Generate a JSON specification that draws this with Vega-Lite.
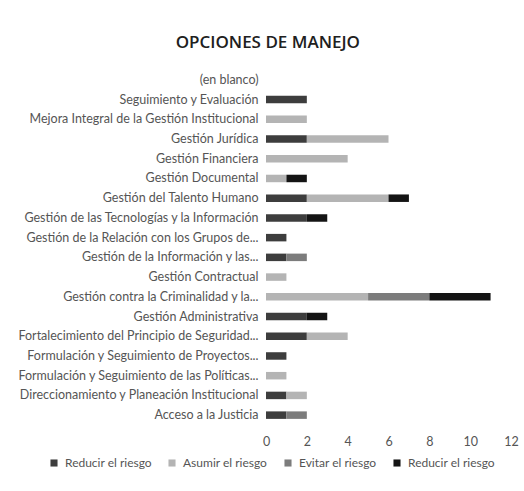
{
  "$schema": "https://vega.github.io/schema/vega-lite/v6.json",
  "width": 245,
  "height": 355,
  "autosize": "none",
  "padding": {"left": 266, "top": 70, "right": 13, "bottom": 66},
  "background": "white",
  "title": {
    "text": "OPCIONES DE MANEJO",
    "frame": "bounds",
    "anchor": "middle",
    "font": "Open Sans",
    "fontSize": 17,
    "fontWeight": 600,
    "color": "#202020",
    "offset": 18
  },
  "config": {
    "view": {"stroke": null},
    "font": "Lato",
    "axis": {"labelFont": "Lato", "labelFontSize": 12.5, "labelColor": "#555555", "domain": false, "ticks": false, "grid": false, "title": null},
    "legend": {"labelFont": "Lato", "labelFontSize": 12, "labelColor": "#555555"}
  },
  "data": {
    "values": [
      {"categoria": "Seguimiento y Evaluación", "serie": "Reducir el riesgo", "orden": 1, "valor": 2},
      {"categoria": "Mejora Integral de la Gestión Institucional", "serie": "Asumir el riesgo", "orden": 2, "valor": 2},
      {"categoria": "Gestión Jurídica", "serie": "Reducir el riesgo", "orden": 1, "valor": 2},
      {"categoria": "Gestión Jurídica", "serie": "Asumir el riesgo", "orden": 2, "valor": 4},
      {"categoria": "Gestión Financiera", "serie": "Asumir el riesgo", "orden": 2, "valor": 4},
      {"categoria": "Gestión Documental", "serie": "Asumir el riesgo", "orden": 2, "valor": 1},
      {"categoria": "Gestión Documental", "serie": "Reducir el riesgo ", "orden": 4, "valor": 1},
      {"categoria": "Gestión del Talento Humano", "serie": "Reducir el riesgo", "orden": 1, "valor": 2},
      {"categoria": "Gestión del Talento Humano", "serie": "Asumir el riesgo", "orden": 2, "valor": 4},
      {"categoria": "Gestión del Talento Humano", "serie": "Reducir el riesgo ", "orden": 4, "valor": 1},
      {"categoria": "Gestión de las Tecnologías y la Información", "serie": "Reducir el riesgo", "orden": 1, "valor": 2},
      {"categoria": "Gestión de las Tecnologías y la Información", "serie": "Reducir el riesgo ", "orden": 4, "valor": 1},
      {"categoria": "Gestión de la Relación con los Grupos de...", "serie": "Reducir el riesgo", "orden": 1, "valor": 1},
      {"categoria": "Gestión de la Información y las...", "serie": "Reducir el riesgo", "orden": 1, "valor": 1},
      {"categoria": "Gestión de la Información y las...", "serie": "Evitar el riesgo", "orden": 3, "valor": 1},
      {"categoria": "Gestión Contractual", "serie": "Asumir el riesgo", "orden": 2, "valor": 1},
      {"categoria": "Gestión contra la Criminalidad y la...", "serie": "Asumir el riesgo", "orden": 2, "valor": 5},
      {"categoria": "Gestión contra la Criminalidad y la...", "serie": "Evitar el riesgo", "orden": 3, "valor": 3},
      {"categoria": "Gestión contra la Criminalidad y la...", "serie": "Reducir el riesgo ", "orden": 4, "valor": 3},
      {"categoria": "Gestión Administrativa", "serie": "Reducir el riesgo", "orden": 1, "valor": 2},
      {"categoria": "Gestión Administrativa", "serie": "Reducir el riesgo ", "orden": 4, "valor": 1},
      {"categoria": "Fortalecimiento del Principio de Seguridad...", "serie": "Reducir el riesgo", "orden": 1, "valor": 2},
      {"categoria": "Fortalecimiento del Principio de Seguridad...", "serie": "Asumir el riesgo", "orden": 2, "valor": 2},
      {"categoria": "Formulación y Seguimiento de Proyectos...", "serie": "Reducir el riesgo", "orden": 1, "valor": 1},
      {"categoria": "Formulación y Seguimiento de las Políticas...", "serie": "Asumir el riesgo", "orden": 2, "valor": 1},
      {"categoria": "Direccionamiento y Planeación Institucional", "serie": "Reducir el riesgo", "orden": 1, "valor": 1},
      {"categoria": "Direccionamiento y Planeación Institucional", "serie": "Asumir el riesgo", "orden": 2, "valor": 1},
      {"categoria": "Acceso a la Justicia", "serie": "Reducir el riesgo", "orden": 1, "valor": 1},
      {"categoria": "Acceso a la Justicia", "serie": "Evitar el riesgo", "orden": 3, "valor": 1}
    ]
  },
  "mark": {"type": "bar"},
  "encoding": {
    "y": {
      "field": "categoria",
      "type": "nominal",
      "sort": ["(en blanco)", "Seguimiento y Evaluación", "Mejora Integral de la Gestión Institucional", "Gestión Jurídica", "Gestión Financiera", "Gestión Documental", "Gestión del Talento Humano", "Gestión de las Tecnologías y la Información", "Gestión de la Relación con los Grupos de...", "Gestión de la Información y las...", "Gestión Contractual", "Gestión contra la Criminalidad y la...", "Gestión Administrativa", "Fortalecimiento del Principio de Seguridad...", "Formulación y Seguimiento de Proyectos...", "Formulación y Seguimiento de las Políticas...", "Direccionamiento y Planeación Institucional", "Acceso a la Justicia"],
      "scale": {
        "domain": ["(en blanco)", "Seguimiento y Evaluación", "Mejora Integral de la Gestión Institucional", "Gestión Jurídica", "Gestión Financiera", "Gestión Documental", "Gestión del Talento Humano", "Gestión de las Tecnologías y la Información", "Gestión de la Relación con los Grupos de...", "Gestión de la Información y las...", "Gestión Contractual", "Gestión contra la Criminalidad y la...", "Gestión Administrativa", "Fortalecimiento del Principio de Seguridad...", "Formulación y Seguimiento de Proyectos...", "Formulación y Seguimiento de las Políticas...", "Direccionamiento y Planeación Institucional", "Acceso a la Justicia"],
        "paddingInner": 0.62,
        "paddingOuter": 0.31
      },
      "axis": {"labelPadding": 8, "labelLimit": 260}
    },
    "x": {
      "field": "valor",
      "type": "quantitative",
      "stack": "zero",
      "scale": {"domain": [0, 12], "nice": false},
      "axis": {"values": [0, 2, 4, 6, 8, 10, 12], "labelPadding": 10, "labelFlush": false}
    },
    "color": {
      "field": "serie",
      "type": "nominal",
      "scale": {
        "domain": ["Reducir el riesgo", "Asumir el riesgo", "Evitar el riesgo", "Reducir el riesgo "],
        "range": ["#3d3d3d", "#b4b4b4", "#7c7c7c", "#141414"]
      },
      "legend": {
        "title": null,
        "orient": "none",
        "direction": "horizontal",
        "legendX": -218,
        "legendY": 387,
        "symbolType": "square",
        "symbolSize": 50,
        "labelOffset": 5,
        "columnPadding": 14
      }
    },
    "order": {"field": "orden", "type": "quantitative"}
  }
}
